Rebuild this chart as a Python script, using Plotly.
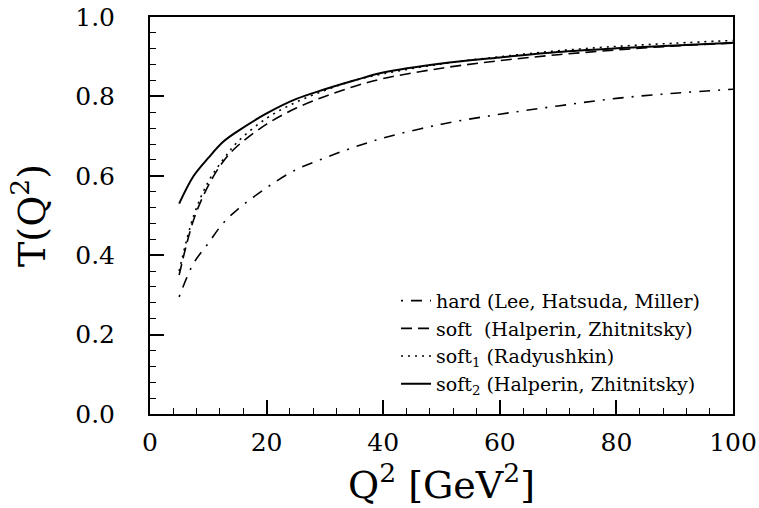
import plotly.graph_objects as go

# Q^2 sample points [GeV^2]
q2 = [5, 7.5, 10, 12.5, 15, 20, 25, 30, 35, 40, 50, 60, 70, 80, 90, 100]

# T(Q^2) curves
t_hard = [0.295, 0.38, 0.43, 0.48, 0.515, 0.57, 0.615, 0.645, 0.672, 0.695,
          0.73, 0.755, 0.776, 0.795, 0.808, 0.818]
t_soft = [0.35, 0.49, 0.575, 0.635, 0.675, 0.73, 0.77, 0.80, 0.825, 0.845,
          0.871, 0.89, 0.905, 0.917, 0.927, 0.934]
t_soft1 = [0.36, 0.50, 0.585, 0.64, 0.685, 0.745, 0.785, 0.815, 0.84, 0.857,
           0.882, 0.90, 0.915, 0.926, 0.934, 0.941]
t_soft2 = [0.53, 0.60, 0.645, 0.685, 0.712, 0.757, 0.793, 0.818, 0.84, 0.86,
           0.883, 0.898, 0.912, 0.921, 0.928, 0.935]

names = ["hard (Lee, Hatsuda, Miller)",
         "soft  (Halperin, Zhitnitsky)",
         "soft<sub>1</sub> (Radyushkin)",
         "soft<sub>2</sub> (Halperin, Zhitnitsky)"]

x_ticks = [0, 20, 40, 60, 80, 100]
y_ticks = [0.0, 0.2, 0.4, 0.6, 0.8, 1.0]

FONT = "DejaVu Serif"

series = [
    (t_hard, names[0], "2px,8px,11px,8px", 1.6),
    (t_soft, names[1], "11px,6px", 1.6),
    (t_soft1, names[2], "2px,5px", 1.6),
    (t_soft2, names[3], "solid", 2.0),
]

fig = go.Figure()
for i, (ys, nm, dash, w) in enumerate(series):
    fig.add_trace(go.Scatter(
        x=q2, y=ys, mode="lines", name=nm, legendgroup=str(i),
        line=dict(color="black", width=w, dash=dash, shape="spline", smoothing=1.0),
    ))

fig.update_layout(
    width=759, height=508,
    margin=dict(l=150, r=26, t=17, b=94, autoexpand=False),
    paper_bgcolor="white", plot_bgcolor="white",
    font=dict(family=FONT, color="black"),
    showlegend=True,
    legend=dict(
        x=0.422, y=0.333, xanchor="left", yanchor="top",
        bgcolor="rgba(0,0,0,0)", borderwidth=0,
        font=dict(family=FONT, size=19, color="black"),
        traceorder="grouped", tracegroupgap=0,
    ),
)

fig.update_xaxes(
    range=[0, 100], tickvals=x_ticks, ticktext=[str(v) for v in x_ticks],
    showgrid=False, zeroline=False, automargin=True,
    showline=True, linecolor="black", linewidth=2, mirror=True,
    ticks="inside", ticklen=14, tickwidth=1.5, tickcolor="black",
    minor=dict(dtick=4, ticks="inside", ticklen=6, tickwidth=1.2, tickcolor="black"),
    tickfont=dict(family=FONT, size=25),
    ticklabelstandoff=5, ticklabeloverflow="allow",
    title=dict(text="Q<sup>2</sup> [GeV<sup>2</sup>]", font=dict(family=FONT, size=38), standoff=1),
)
fig.update_yaxes(
    range=[0, 1.0], tickvals=y_ticks, ticktext=[f"{v:.1f}" for v in y_ticks],
    showgrid=False, zeroline=False, automargin=True,
    showline=True, linecolor="black", linewidth=2, mirror=True,
    ticks="inside", ticklen=14, tickwidth=1.5, tickcolor="black",
    minor=dict(dtick=0.04, ticks="inside", ticklen=6, tickwidth=1.2, tickcolor="black"),
    tickfont=dict(family=FONT, size=25),
    ticklabelstandoff=28, ticklabeloverflow="allow",
    title=dict(text="T(Q<sup>2</sup>)", font=dict(family=FONT, size=38), standoff=18),
)

# remove the default page margin so the figure fills the window exactly
fig.write_html("out.html", config={"displayModeBar": False},
               post_script="document.body.style.margin='0';")
